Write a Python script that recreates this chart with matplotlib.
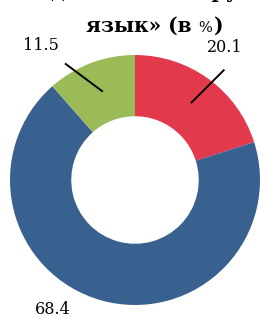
import numpy as np
import matplotlib
matplotlib.use("Agg")
import matplotlib.pyplot as plt

# --- Data ---
labels = ["20.1", "68.4", "11.5"]
values = [20.1, 68.4, 11.5]
colors = ["#E3394D", "#386190", "#9BBB59"]
title_line1 = "«Родной язык — русский"
title_line2 = "язык» (в "

# --- Figure in pixel coordinates (y up) ---
W, H = 260, 318
fig = plt.figure(figsize=(W / 100, H / 100), dpi=100)
ax = fig.add_axes([0, 0, 1, 1])

cx, cy, r = 135, H - 180, 125
wedges, _ = ax.pie(values, colors=colors, startangle=90, counterclock=False,
                   radius=r, center=(cx, cy),
                   wedgeprops=dict(width=r * 0.49, edgecolor="none"),
                   frame=True)
ax.set_xlim(0, W)
ax.set_ylim(0, H)
ax.set_aspect("equal")
ax.axis("off")

# label placement in polar terms around the centre: (angle, radius)
label_pos = {
    "20.1": dict(line=((54, 95), (51, 142)), text=(56, 160)),
    "11.5": dict(line=((110, 94), (121, 136)), text=(125, 164)),
    "68.4": dict(line=None, text=(-122.5, 154)),
}
for lab in labels:
    p = label_pos[lab]
    if p["line"]:
        (a0, r0), (a1, r1) = p["line"]
        xs = [cx + r0 * np.cos(np.radians(a0)), cx + r1 * np.cos(np.radians(a1))]
        ys = [cy + r0 * np.sin(np.radians(a0)), cy + r1 * np.sin(np.radians(a1))]
        ax.plot(xs, ys, color="black", lw=1.4, solid_capstyle="butt")
    ta, tr = p["text"]
    ax.text(cx + tr * np.cos(np.radians(ta)), cy + tr * np.sin(np.radians(ta)), lab,
            ha="center", va="center", fontsize=11.5, family="DejaVu Serif")

# Title (first line cropped at top edge, as in the source)
ax.text(158, H + 2, title_line1, ha="center", va="baseline",
        fontsize=14.5, fontweight="bold", family="DejaVu Serif")
t2 = ax.text(86, H - 32, title_line2, ha="left", va="baseline",
             fontsize=14.5, fontweight="bold", family="DejaVu Serif")
fig.canvas.draw()
bb = t2.get_window_extent()
pct = ax.text(bb.x1, H - 32, "%", ha="left", va="baseline",
              fontsize=10.5, family="DejaVu Serif")
fig.canvas.draw()
bb2 = pct.get_window_extent()
ax.text(bb2.x1 + 2, H - 32, ")", ha="left", va="baseline",
        fontsize=14.5, fontweight="bold", family="DejaVu Serif")

fig.savefig("out.png", dpi=100)
